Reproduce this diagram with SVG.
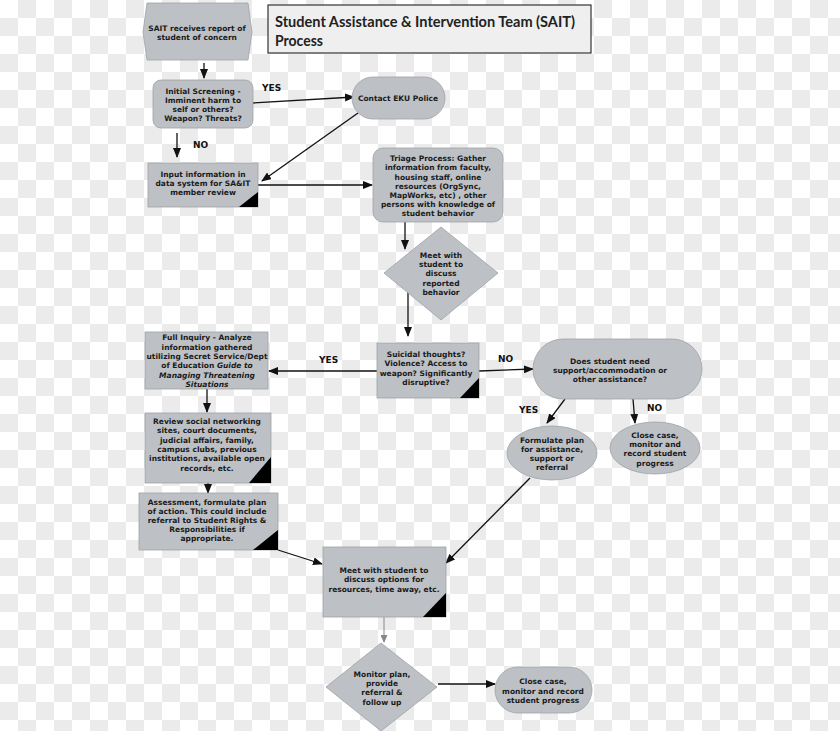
<svg xmlns="http://www.w3.org/2000/svg" width="840" height="731" viewBox="0 0 840 731">
<style>
.n{fill:#bdc0c4;stroke:#9ea2a6;stroke-width:0.8}
.t{font-family:"DejaVu Sans",Verdana,sans-serif;font-weight:bold;font-size:7.5px;fill:#1a1a1a;text-anchor:middle}
.l{font-family:"DejaVu Sans",Verdana,sans-serif;font-weight:bold;font-size:9px;fill:#111}
.c{stroke:#111;stroke-width:1.3;fill:none;marker-end:url(#ah)}
.g{stroke:#888;stroke-width:1;fill:none;marker-end:url(#ahg)}
.k{fill:#000}
.ti{font-family:"Lato","Open Sans",sans-serif;font-weight:bold;font-size:15.5px;fill:#222}
</style>
<defs>
<pattern id="chk" width="36" height="36" patternUnits="userSpaceOnUse">
<rect width="36" height="36" fill="#ffffff"/>
<rect x="18" y="0" width="18" height="18" fill="#ebebeb"/>
<rect x="0" y="18" width="18" height="18" fill="#ebebeb"/>
</pattern>
<marker id="ah" markerUnits="userSpaceOnUse" markerWidth="10" markerHeight="8" refX="9" refY="4" orient="auto">
<path d="M0,0 L10,4 L0,8 Z" fill="#111"/>
</marker>
<marker id="ahg" markerUnits="userSpaceOnUse" markerWidth="8" markerHeight="7" refX="7" refY="3.5" orient="auto">
<path d="M0,0 L8,3.5 L0,7 Z" fill="#888"/>
</marker>
</defs>
<rect width="840" height="731" fill="url(#chk)"/>

<g id="title">
<rect x="268" y="5" width="323" height="48" fill="#efefef" stroke="#333" stroke-width="1.2"/>
<text class="ti" x="275" y="27" textLength="300" lengthAdjust="spacingAndGlyphs">Student Assistance &amp; Intervention Team (SAIT)</text>
<text class="ti" x="275" y="46" textLength="48" lengthAdjust="spacingAndGlyphs">Process</text>
</g>

<g id="connectors">
<line class="c" x1="204" y1="63" x2="204" y2="78"/>
<line class="c" x1="253" y1="103" x2="354" y2="97"/>
<line class="c" x1="177" y1="133" x2="177" y2="157"/>
<line class="c" x1="358" y1="113" x2="262" y2="181"/>
<line class="c" x1="258" y1="185" x2="372" y2="185"/>
<line class="c" x1="405" y1="222" x2="405" y2="249"/>
<line class="c" x1="408" y1="292" x2="408" y2="336"/>
<line class="c" x1="377" y1="371" x2="269" y2="371"/>
<line class="c" x1="479" y1="371" x2="533" y2="369"/>
<line class="c" x1="207" y1="389" x2="207" y2="412"/>
<line class="c" x1="208" y1="483" x2="208" y2="493"/>
<line class="c" x1="278" y1="550" x2="322" y2="564"/>
<line class="c" x1="530" y1="478" x2="446" y2="563"/>
<line class="c" x1="565" y1="399" x2="547" y2="423"/>
<line class="c" x1="633" y1="399" x2="635" y2="423"/>
<line class="g" x1="384" y1="617" x2="384" y2="642"/>
<line class="c" x1="438" y1="684" x2="495" y2="684"/>
<text class="l" x="262" y="91">YES</text>
<text class="l" x="193" y="148">NO</text>
<text class="l" x="319" y="363">YES</text>
<text class="l" x="498" y="362">NO</text>
<text class="l" x="519" y="413">YES</text>
<text class="l" x="647" y="411">NO</text>
</g>

<g id="n1">
<polygon class="n" points="147,3 248,3 252,32 248,60 147,60 143,32"/>
<text class="t" x="197" y="31">SAIT receives report of</text>
<text class="t" x="197" y="40">student of concern</text>
</g>

<g id="n2">
<rect class="n" x="153" y="80" width="100" height="48" rx="8"/>
<text class="t" x="203" y="94">Initial Screening -</text>
<text class="t" x="203" y="103">Imminent harm to</text>
<text class="t" x="203" y="112">self or others?</text>
<text class="t" x="203" y="121">Weapon? Threats?</text>
</g>

<g id="n3">
<rect class="n" x="148" y="163" width="110" height="44"/>
<polygon class="k" points="239,207 258,207 258,192"/>
<text class="t" x="203" y="177">Input information in</text>
<text class="t" x="203" y="186">data system for SA&amp;IT</text>
<text class="t" x="203" y="195">member review</text>
</g>

<g id="n4">
<rect class="n" x="352" y="77" width="93" height="42" rx="21"/>
<text class="t" x="398" y="101">Contact EKU Police</text>
</g>

<g id="n5">
<rect class="n" x="373" y="148" width="130" height="74" rx="10"/>
<text class="t" x="438" y="161">Triage Process: Gather</text>
<text class="t" x="438" y="170">information from faculty,</text>
<text class="t" x="438" y="180">housing staff, online</text>
<text class="t" x="438" y="189">resources (OrgSync,</text>
<text class="t" x="438" y="198">MapWorks, etc) , other</text>
<text class="t" x="438" y="207">persons with knowledge of</text>
<text class="t" x="438" y="216">student behavior</text>
</g>

<g id="n6">
<polygon class="n" points="441,227 498,273 441,320 384,273"/>
<text class="t" x="441" y="258">Meet with</text>
<text class="t" x="441" y="267">student to</text>
<text class="t" x="441" y="276">discuss</text>
<text class="t" x="441" y="286">reported</text>
<text class="t" x="441" y="295">behavior</text>
</g>

<g id="n7">
<rect class="n" x="377" y="343" width="102" height="55"/>
<polygon class="k" points="460,398 479,398 479,378"/>
<text class="t" x="426" y="357">Suicidal thoughts?</text>
<text class="t" x="426" y="366">Violence? Access to</text>
<text class="t" x="426" y="376">weapon? Significantly</text>
<text class="t" x="426" y="385">disruptive?</text>
</g>

<g id="n8">
<rect class="n" x="145" y="332" width="123" height="57"/>
<text class="t" x="207" y="340">Full Inquiry - Analyze</text>
<text class="t" x="207" y="350">information gathered</text>
<text class="t" x="207" y="359">utilizing Secret Service/Dept</text>
<text class="t" x="207" y="368">of Education <tspan font-style="italic">Guide to</tspan></text>
<text class="t" x="207" y="378" font-style="italic">Managing Threatening</text>
<text class="t" x="207" y="387" font-style="italic">Situations</text>
</g>

<g id="n9">
<rect class="n" x="145" y="413" width="126" height="70"/>
<polygon class="k" points="249,483 271,483 271,457"/>
<text class="t" x="207" y="424">Review social networking</text>
<text class="t" x="207" y="433">sites, court documents,</text>
<text class="t" x="207" y="443">judicial affairs, family,</text>
<text class="t" x="207" y="452">campus clubs, previous</text>
<text class="t" x="207" y="461">institutions, available open</text>
<text class="t" x="207" y="471">records, etc.</text>
</g>

<g id="n10">
<rect class="n" x="139" y="493" width="139" height="57"/>
<polygon class="k" points="253,550 278,550 278,530"/>
<text class="t" x="207" y="505">Assessment, formulate plan</text>
<text class="t" x="207" y="514">of action. This could include</text>
<text class="t" x="207" y="523">referral to Student Rights &amp;</text>
<text class="t" x="207" y="532">Responsibilities if</text>
<text class="t" x="207" y="541">appropriate.</text>
</g>

<g id="n11">
<rect class="n" x="323" y="547" width="123" height="70"/>
<polygon class="k" points="423,617 446,617 446,593"/>
<text class="t" x="384" y="573">Meet with student to</text>
<text class="t" x="384" y="582">discuss options for</text>
<text class="t" x="384" y="592">resources, time away, etc.</text>
</g>

<g id="n12">
<polygon class="n" points="381,643 437,687 381,731 326,687"/>
<text class="t" x="382" y="677">Monitor plan,</text>
<text class="t" x="382" y="686">provide</text>
<text class="t" x="382" y="695">referral &amp;</text>
<text class="t" x="382" y="705">follow up</text>
</g>

<g id="n13">
<rect class="n" x="495" y="667" width="97" height="46" rx="23"/>
<text class="t" x="543" y="684">Close case,</text>
<text class="t" x="543" y="694">monitor and record</text>
<text class="t" x="543" y="703">student progress</text>
</g>

<g id="n14">
<rect class="n" x="533" y="339" width="169" height="60" rx="30"/>
<text class="t" x="610" y="364">Does student need</text>
<text class="t" x="610" y="373">support/accommodation or</text>
<text class="t" x="610" y="382">other assistance?</text>
</g>

<g id="n15">
<ellipse class="n" cx="552" cy="453" rx="45" ry="27"/>
<text class="t" x="552" y="443">Formulate plan</text>
<text class="t" x="552" y="452">for assistance,</text>
<text class="t" x="552" y="461">support or</text>
<text class="t" x="552" y="470">referral</text>
</g>

<g id="n16">
<ellipse class="n" cx="655" cy="448" rx="45" ry="26"/>
<text class="t" x="655" y="438">Close case,</text>
<text class="t" x="655" y="447">monitor and</text>
<text class="t" x="655" y="456">record student</text>
<text class="t" x="655" y="466">progress</text>
</g>
</svg>
